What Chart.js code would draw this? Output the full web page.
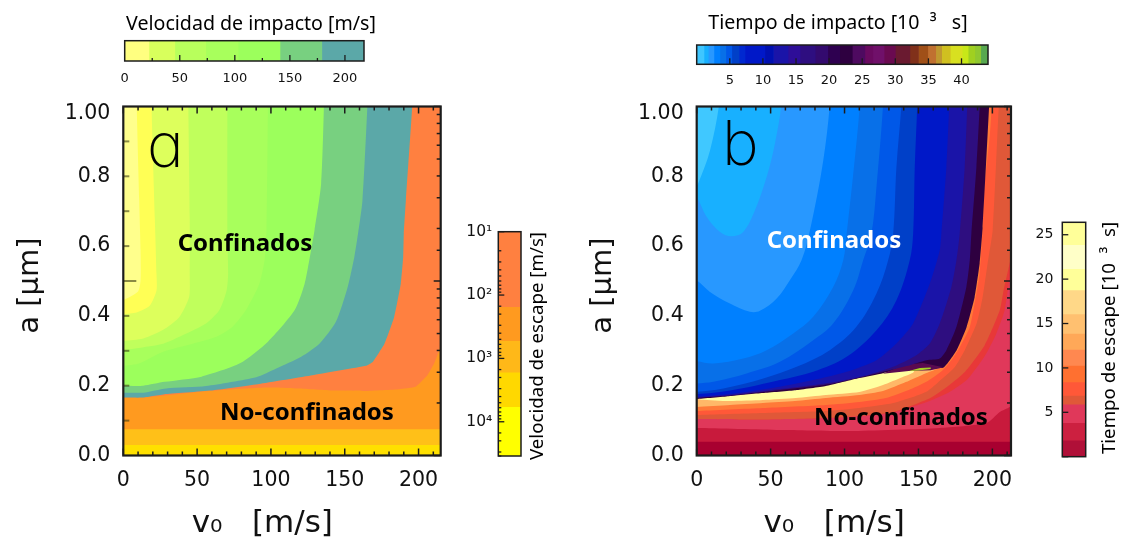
<!DOCTYPE html>
<html>
<head>
<meta charset="utf-8">
<script src="https://cdn.jsdelivr.net/npm/chart.js@4"></script>
<style>
html,body{margin:0;padding:0;background:#fff;width:1127px;height:543px;overflow:hidden}
canvas{position:absolute}
.letter{position:absolute;font-family:Inter;font-weight:200;font-size:62px;line-height:62px;color:#000;font-feature-settings:'cv11'}
</style>
</head>
<body>
<canvas id="panelA" style="left:0;top:70px" width="460" height="473"></canvas>
<canvas id="panelB" style="left:573px;top:70px" width="457" height="473"></canvas>
<canvas id="barImpactV" style="left:100px;top:0" width="290" height="90"></canvas>
<canvas id="barImpactT" style="left:670px;top:0" width="340" height="90"></canvas>
<canvas id="barEscapeV" style="left:455px;top:205px" width="100" height="275"></canvas>
<canvas id="barEscapeT" style="left:1030px;top:200px" width="97" height="280"></canvas>
<span class="letter" style="left:147px;top:114px">a</span>
<span class="letter" style="left:722px;top:112px">b</span>
<script>
// ---- axis ranges and labels
const axisAMax = 215, axisBMax = 212.6;
const vTitle = 'v\u2080   [m/s]    ', aTitle = 'a [\u03bcm] ';

// ---- panel a contours: [v0, a]
const aBand1 = [[0,0],[217,0]];
const aBand2 = [[0,.03],[217,.03]];
const aBand3 = [[0,.075],[217,.075]];
const aEscape = [[0,.166],[13.5,.166],[52,.183],[74,.19],[97,.195],[119,.192],[142,.186],[164,.185],[187,.19],[198,.197],[206,.23],[210.6,.264],[214,.302],[217,.36]];
const aTeal = [[0,.166],[13.5,.166],[29,.176],[61,.187],[92,.205],[128,.23],[164.4,.257],[169,.268],[177,.321],[183.5,.397],[188,.493],[189.6,.569],[190,.636],[191.4,.731],[196,1.02]];
const aGreen = [[0,.18],[13.5,.18],[29,.192],[56,.199],[90,.224],[103.6,.249],[120.5,.283],[133,.321],[144,.383],[152,.483],[156.5,.569],[159,.636],[162,.731],[165.5,1.02]];
const aLime1 = [[0,.2],[13.5,.2],[28,.211],[53,.226],[79,.264],[98,.326],[116,.416],[122.7,.49],[126,.56],[129.5,.645],[134,.779],[136,1.02]];
const aLime2 = [[0,.256],[11,.264],[27,.297],[47,.32],[63,.34],[74,.369],[83,.416],[92,.49],[95.7,.56],[97,.645],[98,1.02]];
const aLime3 = [[0,.302],[9,.307],[27,.32],[40.5,.345],[56,.378],[65,.416],[70,.473],[71,.52],[70.5,.645],[70.5,1.02]];
const aLime4 = [[0,.328],[13.5,.335],[27,.36],[38,.397],[44.6,.454],[45,.52],[45,.683],[44,1.02]];
const aYellow = [[0,.405],[9,.41],[18,.43],[22.5,.473],[22.5,.52],[21.4,.674],[19,1.02]];
const aPale = [[0,.445],[10,.47],[11.7,.502],[11.7,.588],[10.8,.731],[9,1.02]];
const aColors = ['#ffe000','#ffc018','#ff9a1f','#ff8040','#5ba8a8','#78d080','#9cff5c','#a8ff5c','#c0ff5c','#ddff5c','#ffff55','#ffff8c'];

// ---- panel b contours: [v0, a]
const bFloor = [[0,0],[217,0]];
const bL1 = [[0,.0395],[217,.0395]];
const bL2 = [[0,.0787],[56.3,.073],[103.6,.07],[164.4,.0787],[196.1,.093],[205,.1245],[211.7,.1388],[216,.16]];
const bL3a = [[0,.1044],[44.8,.103],[87.4,.1073],[110,.113],[133,.1235],[158,.157],[171,.1817],[182.6,.216],[194.8,.2847],[202.2,.3448],[208.3,.4163],[212.4,.5308],[216,.62]];
const bL3 = [[0,.1044],[44.8,.103],[87.4,.1073],[110,.113],[133,.1245],[158,.1645],[171,.2017],[181.3,.2389],[194.8,.3162],[205,.4163],[207.6,.4735],[212.4,.5651],[216,.66]];
const bL4 = [[0,.1159],[44.8,.1216],[87.4,.1273],[110,.1359],[133,.1502],[155,.1817],[166.4,.2217],[174.5,.2532],[181.3,.3019],[189.4,.3791],[193.4,.4535],[196.8,.5508],[200.2,.6452],[204.3,.9971],[205,1.02]];
const bL5 = [[0,.1273],[44.8,.1359],[87.4,.1445],[110,.1531],[128,.1645],[143.4,.1874],[155,.2103],[166.4,.2446],[173.2,.279],[177.9,.3104],[184.7,.3677],[188,.4363],[191.4,.5222],[193.4,.651],[194,.73]];
const bL6 = [[0,.1388],[22.5,.1445],[44.8,.1502],[66.4,.156],[87.4,.1645],[110,.173],[126,.1845],[141.4,.2103],[155,.236],[165,.2532],[171,.279],[171,.33]];
const bCream = [[3,.16],[21.8,.156],[44.8,.1588],[67,.1645],[87.4,.173],[110,.1817],[126,.2017],[139.4,.2246],[146.8,.2389],[146.8,.27]];
const bColorsOut = ['#a80030','#c81a3c','#e0385a','#e83838','#e05838','#ff5838','#ff7a38','#ffb868','#ffffa0'];

const bBlack = [[0,.162],[21.8,.170],[44.8,.179],[67,.187],[87.4,.199],[110,.222],[126,.236],[139.4,.2475],[153,.25],[167,.2518],[175.9,.302],[182.6,.368],[188,.4535],[191.4,.551],[193.4,.652],[198,1.02]];
const bB1 = [[0,.1655],[22.5,.1712],[56.3,.1874],[90,.2046],[121.6,.2351],[141.9,.2561],[155.4,.2732],[164.4,.278],[168.9,.3019],[175.7,.3686],[182.4,.4831],[184.7,.5594],[185.8,.6356],[189.2,.8265],[191.6,1.02]];
const bB2 = [[0,.1655],[22.5,.1731],[56.3,.1903],[90,.2084],[114.9,.2303],[132.9,.2542],[148.6,.2876],[157.7,.321],[164.4,.3782],[172.3,.4831],[175.7,.5594],[177.9,.6356],[181.3,.8265],[183.1,1.02]];
const bB3 = [[0,.1683],[22.5,.176],[56.3,.197],[78.8,.216],[101.4,.2399],[121.6,.2732],[135.1,.321],[146.4,.3782],[157.7,.4926],[164.4,.588],[165.5,.6356],[168.9,.8265],[170.9,1.02]];
const bB4 = [[0,.1759],[11.3,.1798],[33.8,.195],[56.3,.216],[78.8,.2399],[101.4,.2828],[121.6,.3591],[135.1,.445],[144.1,.5594],[146.4,.6356],[147.5,.8265],[149.3,1.02]];
const bB5 = [[0,.1826],[18,.1922],[45,.2208],[67.6,.2542],[90,.3019],[108,.3687],[121.6,.464],[129.5,.5594],[132.9,.6356],[135.1,.8265],[138.7,1.02]];
const bB6 = [[0,.2065],[11.3,.2113],[33.8,.2351],[56.3,.2685],[78.8,.3305],[92.3,.3782],[105.9,.4736],[112.6,.5594],[118.2,.6356],[121.6,.7692],[126.3,1.02]];
const bB7 = [[0,.2704],[11.3,.2637],[31.5,.278],[47.3,.3019],[65.3,.3496],[78.8,.3973],[92.3,.4831],[99.1,.5594],[101.4,.6356],[105.9,.8074],[110.6,1.02]];
const bB8 = [[0,.5022],[9,.4688],[22.5,.4354],[36,.4116],[42.8,.4144],[54.1,.4497],[63,.5022],[70.9,.5594],[76.6,.6452],[85.6,.8455],[90.3,1.02]];
const bB9 = [[0,.7401],[6.8,.6833],[15.8,.6404],[23.6,.628],[31.5,.6404],[39.4,.7024],[47.3,.7978],[52.9,.8932],[57.7,1.02]];
const bB10 = [[0,.7739],[1.1,.7805],[9,.8741],[15.6,1.02]];
const bColorsIn = ['#2e0040','#2e0e80','#1a14a8','#0018c8','#0040c8','#0058e8','#0870e8','#0080ff','#2898ff','#18b0ff','#40c8ff'];
const bPurple = [[125.9,.234],[139.4,.259],[152.9,.2647],[167,.2532],[158.3,.2446],[143.4,.2418]];
const bSliver = [[143.4,.2418],[151,.2504],[158.3,.2518],[158.3,.2475],[150,.2435]];

// ---- colour bars
const barVEdges = [0,22,45.5,73.6,103,141,179,217.5];
const barVColors = ['#ffff80','#d8ff5c','#b8ff5c','#a8ff5c','#9cff5c','#78d080','#5ba8a8'];
const barTEdges = [0,1.1,1.75,2.6,3.5,4.4,5.3,6.4,7.3,10.3,11.6,13.8,15.6,17.9,19.8,21.6,23.5,25.4,26.6,28.3,30,32.2,33.5,34.9,36.1,37,38.3,40.1,41,42,42.9,44];
const barTColors = ['#3fc6ff','#18b0ff','#2898ff','#0080ff','#0870e8','#0058e8','#0040c8','#0028d0','#0018c8','#0010b0','#1a14a8','#2e0e98','#2e0e80','#330a6e','#2e0050','#2e0040','#4e0a60','#6a0a60','#70106a','#6a0a50','#6a1a30','#80301a','#a05018','#c07030','#c09830','#d0c020','#d8e020','#c8e818','#a0d020','#90c830','#58a850'];
const escVEdges = [10,153,525,1644,5795,34700];
const escVColors = ['#ff8040','#ff9a1f','#ffb818','#ffd800','#ffff00'];
const escTEdges = [0,1.8,3.76,5.83,6.84,8.35,10.2,12,13.8,16,18.7,21.1,23.8,26.4];
const escTColors = ['#b01038','#cc2040','#e0385a','#e05838','#ff5838','#ff7030','#ff8850','#ffa858','#ffc070','#ffd888','#ffff99','#ffffc8','#ffff99'];

// ---- helpers
const textFont = '"Noto Sans"', numFont = '"DejaVu Sans"', dark = '#1c1c1c';
Chart.defaults.animation = false;

function outline(poly){ // closed polygon reachable from the baseline along an off-plot slit
  const p0 = poly[0];
  const pts = [[-9,0],[-8,0],...poly,p0,[-8,0],[-7,0],[229,0],[230,0]];
  return pts.map(p => ({x:p[0], y:p[1]}));
}
function above(c){
  const f = c[0], l = c[c.length-1];
  return outline([[-3,f[1]],...c,[l[0],1.1],[-3,1.1]]);
}
function layer(pts,color,tension){
  return {data:pts, showLine:true, fill:'origin', backgroundColor:color, borderWidth:0, borderColor:color,
          pointRadius:0, pointHoverRadius:0, tension:tension===undefined?.12:tension, capBezierPoints:false};
}
function tickPlugin(specs, frame){
  return {id:'inTicks', afterDraw(chart){
    const c = chart.ctx, A = chart.chartArea;
    c.save();
    for(const s of specs){
      const sc = chart.scales[s.scale];
      c.strokeStyle = s.color || dark; c.lineWidth = s.width || 1.5;
      for(const t of sc.ticks){
        if (s.skip && s.skip(t.value)) continue;
        const p = sc.getPixelForValue(t.value), L = s.major(t.value) ? s.lenMaj : s.lenMin;
        c.beginPath();
        if(s.edge==='top'){c.moveTo(p,A.top);c.lineTo(p,A.top+L);}
        if(s.edge==='bottom'){c.moveTo(p,A.bottom);c.lineTo(p,A.bottom-L);}
        if(s.edge==='left'){c.moveTo(A.left,p);c.lineTo(A.left+L,p);}
        if(s.edge==='right'){c.moveTo(A.right,p);c.lineTo(A.right-L,p);}
        c.stroke();
      }
    }
    c.strokeStyle = dark; c.lineWidth = frame;
    c.strokeRect(A.left,A.top,A.right-A.left,A.bottom-A.top);
    c.restore();
  }};
}
function textPlugin(items){
  return {id:'labels', afterDraw(chart){
    const c = chart.ctx;
    for(const it of items){
      c.save();
      c.translate(it.x,it.y); if(it.rot) c.rotate(it.rot);
      c.font = it.font; c.fillStyle = it.color||'#000'; c.textAlign='center'; c.textBaseline='middle';
      c.fillText(it.t,0,0);
      c.restore();
    }
  }};
}
const hidden = {grid:{display:false,drawTicks:false}, border:{display:false}};

function mainChart(id, xMax, layers, m, texts, leftTicks){
  const specs = [
    {scale:'xMinor',edge:'top',major:v=>v%50===0,lenMaj:7,lenMin:4},
    {scale:'xMinor',edge:'bottom',major:v=>v%50===0,lenMaj:7,lenMin:4},
    {scale:'yLog',edge:'right',major:v=>Math.abs(Math.log10(v)%1)<1e-6,lenMaj:7,lenMin:4}
  ];
  if(leftTicks) specs.push({scale:'y',edge:'left',major:v=>Math.round(v*10)%5===0,lenMaj:13,lenMin:6,color:'rgba(60,60,20,.6)',skip:v=>v<.05||v>.95,width:2});
  new Chart(document.getElementById(id),{
    type:'scatter',
    data:{datasets:layers.slice().reverse()},
    options:{
      responsive:false, events:[],
      layout:{padding:{top:m.t,right:m.r}},
      plugins:{legend:{display:false},tooltip:{enabled:false}},
      scales:{
        x:{type:'linear',position:'bottom',min:0,max:xMax,...hidden,
           ticks:{stepSize:50,includeBounds:false,autoSkip:false,maxRotation:0,padding:13,color:'#111',font:{family:numFont,size:20.5}},
           title:{display:true,text:vTitle,color:'#111',font:{family:numFont,size:31},padding:{top:0,bottom:0}},
           afterFit:s=>{s.height=m.b;}},
        y:{type:'linear',position:'left',min:0,max:1,...hidden,
           ticks:{stepSize:.1,autoSkip:false,padding:13,color:'#111',font:{family:numFont,size:20.5,lineHeight:'14px'},
                  callback:v=>{const k=Math.round(v*10); if(k===10) return ['','1.00']; return k%2===0?(k/10).toFixed(1):'';}},
           title:{display:true,text:aTitle,color:'#111',font:{family:numFont,size:29},padding:{top:13,bottom:0}},
           afterFit:s=>{s.width=m.l;}},
        xMinor:{type:'linear',position:'top',min:0,max:xMax,...hidden,
           ticks:{display:false,stepSize:10,includeBounds:false,autoSkip:false},afterFit:s=>{s.height=0;}},
        yLog:{type:'logarithmic',position:'right',min:1,max:100,...hidden,
           ticks:{display:false,autoSkip:false},afterFit:s=>{s.width=0;}}
      }
    },
    plugins:[tickPlugin(specs,2.2),textPlugin(texts)]
  });
}

function bands(edges,colors){
  return colors.map((col,i)=>({data:[[edges[i],edges[i+1]]],backgroundColor:col,borderWidth:0,barPercentage:1,categoryPercentage:1,grouped:false}));
}
function hBar(id,edges,colors,max,step,m,texts,labelFn,majorFn,pad,size){
  new Chart(document.getElementById(id),{
    type:'bar',
    data:{labels:[''],datasets:bands(edges,colors)},
    options:{
      indexAxis:'y',responsive:false,events:[],
      layout:{padding:{top:m.t,left:m.l,right:m.r}},
      plugins:{legend:{display:false},tooltip:{enabled:false}},
      scales:{
        y:{type:'category',display:false,stacked:false},
        x:{type:'linear',position:'bottom',min:0,max:max,...hidden,
           ticks:{stepSize:step,includeBounds:false,autoSkip:false,maxRotation:0,padding:pad,color:'#111',font:{family:numFont,size:size},callback:labelFn},
           afterFit:s=>{s.height=m.b;}}
      }
    },
    plugins:[tickPlugin([{scale:'x',edge:'bottom',major:majorFn,lenMaj:6,lenMin:3,skip:v=>v===0,width:1.3}],1.5),textPlugin(texts)]
  });
}
function vBar(id,edges,colors,yOpts,m,texts,majorFn,lens,pad,labelFn,size){
  new Chart(document.getElementById(id),{
    type:'bar',
    data:{labels:[''],datasets:bands(edges,colors)},
    options:{
      responsive:false,events:[],
      layout:{padding:{top:m.t,right:m.r,bottom:m.b}},
      plugins:{legend:{display:false},tooltip:{enabled:false}},
      scales:{
        x:{type:'category',display:false},
        y:{position:'left',...yOpts,...hidden,
           ticks:{...(yOpts.ticks||{}),autoSkip:false,padding:pad,color:'#111',font:{family:numFont,size:size},callback:labelFn},
           afterFit:s=>{s.width=m.l;}}
      }
    },
    plugins:[tickPlugin([{scale:'y',edge:'left',major:majorFn,lenMaj:lens[0],lenMin:lens[1],width:1.3}],1.5),textPlugin(texts)]
  });
}

// ---- panel a
const aStack = [aBand1,aBand2,aBand3,aEscape,aTeal,aGreen,aLime1,aLime2,aLime3,aLime4,aYellow,aPale];
mainChart('panelA',axisAMax,aStack.map((c,i)=>layer(above(c),aColors[i],i<3?0:(i<5?.12:.22))),
  {l:123.3,t:36.5,r:19.3,b:87.5},
  [{t:'Confinados',x:245,y:174,font:'bold 24px '+textFont},
   {t:'No-confinados',x:307,y:343,font:'bold 24px '+textFont}], true);

// ---- panel b
const bOut = [bFloor,bL1,bL2,bL3a,bL3,bL4,bL5,bL6,bCream];
const bIn = [bBlack,bB1,bB2,bB3,bB4,bB5,bB6,bB7,bB8,bB9,bB10];
const bLayers = [
  ...bOut.map((c,i)=>layer(above(c),bColorsOut[i],i<2?0:.2)),
  layer(above(bBlack),bColorsIn[0],.15),
  layer(outline(bPurple),'#5a0a50',0),
  layer(outline(bSliver),'#a8d028',0),
  ...bIn.slice(1).map((c,i)=>layer(above(c),bColorsIn[i+1],i<3?.22:.35))
];
mainChart('panelB',axisBMax,bLayers,
  {l:123.7,t:36.5,r:19,b:87.5},
  [{t:'Confinados',x:261,y:171,font:'bold 24px '+textFont,color:'#fff'},
   {t:'No-confinados',x:328,y:348,font:'bold 24px '+textFont}], false);

// ---- colour bars
hBar('barImpactV',barVEdges,barVColors,217.3,25,{l:24.7,r:26,t:40.7,b:29},
  [{t:'Velocidad de impacto [m/s]',x:151,y:24,font:'19.6px '+textFont}],
  v=>v%50===0?String(v):'',v=>v%50===0,10,13);
hBar('barImpactT',barTEdges,barTColors,44,5,{l:26.7,r:22,t:45,b:25.7},
  [{t:'Tiempo de impacto [10  \u00b3   s]',x:168,y:23,font:'19.6px '+textFont}],
  v=>v===0?'':String(v),()=>true,9,13);
const supers = {1:'\u00b9',2:'\u00b2',3:'\u00b3',4:'\u2074'};
vBar('barEscapeV',escVEdges,escVColors,{type:'logarithmic',min:10,max:34700,reverse:true},{l:43.3,t:26.7,r:34,b:24},
  [{t:'Velocidad de escape [m/s]',x:83,y:141,font:'18.7px '+textFont,rot:-Math.PI/2}],
  v=>Math.abs(Math.log10(v)%1)<1e-6,[6,3],6,
  v=>{const e=Math.log10(v); return Math.abs(e%1)<1e-6?'10'+supers[Math.round(e)]:'';},15.5);
vBar('barEscapeT',escTEdges,escTColors,{type:'linear',min:0,max:26.4,ticks:{stepSize:5,includeBounds:false}},{l:32.3,t:22.3,r:41.3,b:23.3},
  [{t:'Tiempo de escape [10  \u00b3  s]',x:80,y:138,font:'18.7px '+textFont,rot:-Math.PI/2}],
  ()=>true,[6,6],9,v=>v===0?'':String(v),14);
</script>
</body>
</html>
